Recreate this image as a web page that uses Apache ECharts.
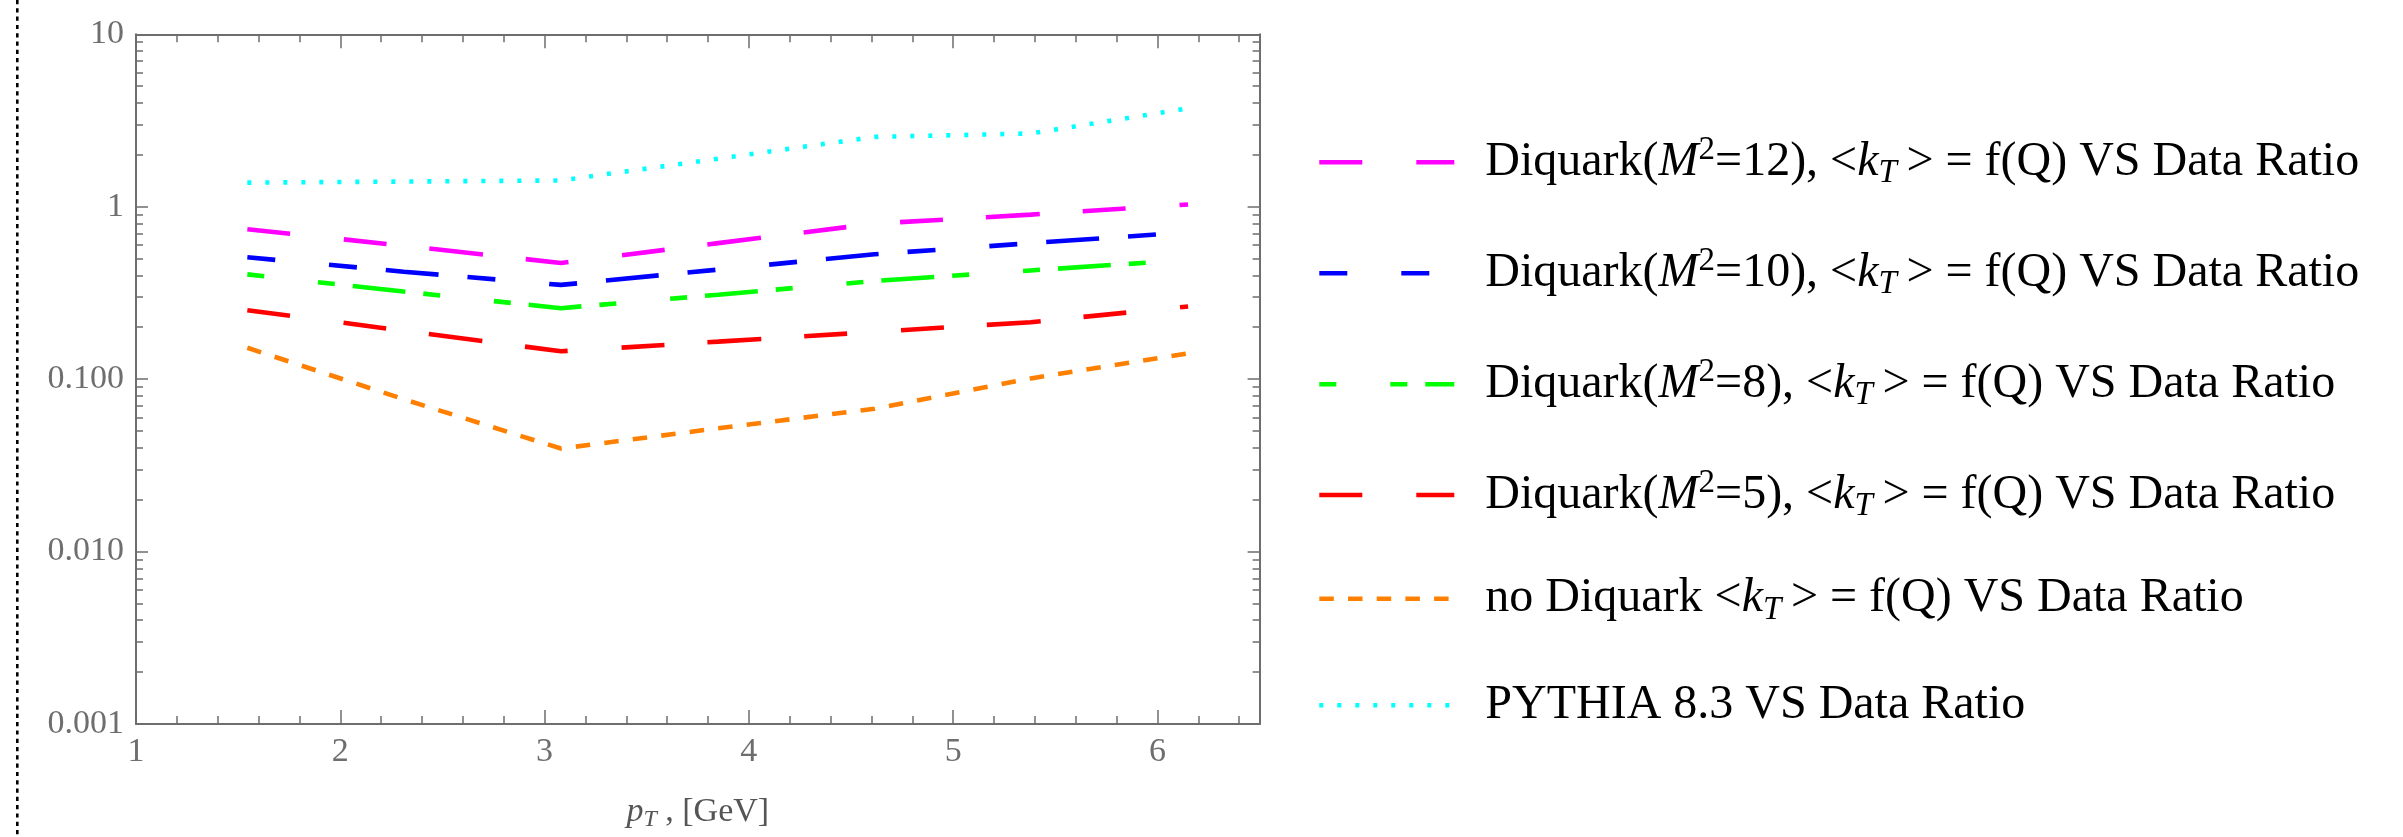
<!DOCTYPE html>
<html>
<head>
<meta charset="utf-8">
<script src="https://cdn.jsdelivr.net/npm/echarts@6/dist/echarts.min.js"></script>
<style>
  html, body { margin: 0; padding: 0; background: #fff; }
  #chart { width: 2403px; height: 837px; }
</style>
</head>
<body>
<div id="chart"></div>
<script>
// pT bin centres
const xValues = [1.545, 2.31, 3.08, 3.85, 4.615, 5.38, 6.15];

// ratios
const diquark12 = [0.741, 0.594, 0.472, 0.615, 0.798, 0.90, 1.03];
const diquark10 = [0.509, 0.42, 0.352, 0.432, 0.530, 0.615, 0.71];
const diquark8 = [0.405, 0.322, 0.258, 0.309, 0.371, 0.427, 0.492];
const diquark5 = [0.251, 0.191, 0.145, 0.165, 0.188, 0.214, 0.264];
const noDiquark = [0.152, 0.0765, 0.0396, 0.0519, 0.0673, 0.101, 0.141];
const pythia = [1.38, 1.40, 1.42, 1.90, 2.54, 2.66, 3.72];

// ticks
const xMinorTicks = [1.2, 1.4, 1.6, 1.8, 2.2, 2.4, 2.6, 2.8, 3.2, 3.4, 3.6, 3.8,
    4.2, 4.4, 4.6, 4.8, 5.2, 5.4, 5.6, 5.8, 6.2, 6.4];
const yMinorTicks = [0.002, 0.003, 0.004, 0.005, 0.006, 0.007, 0.008, 0.009,
    0.02, 0.03, 0.04, 0.05, 0.06, 0.07, 0.08, 0.09,
    0.2, 0.3, 0.4, 0.5, 0.6, 0.7, 0.8, 0.9,
    2, 3, 4, 5, 6, 7, 8, 9];
const yTickLabels = ['0.001', '0.010', '0.100', '1', '10'];

const seriesNames = [
    'Diquark(M2=12), <kT> = f(Q) VS Data Ratio',
    'Diquark(M2=10), <kT> = f(Q) VS Data Ratio',
    'Diquark(M2=8), <kT> = f(Q) VS Data Ratio',
    'Diquark(M2=5), <kT> = f(Q) VS Data Ratio',
    'no Diquark <kT> = f(Q) VS Data Ratio',
    'PYTHIA 8.3 VS Data Ratio'
];
const legendRich = [
    '{r|Diquark(}{it|M}{sup|2}{r|=12), <}{it|k}{sub|T}{r|\u2009> = f(Q) VS Data Ratio}',
    '{r|Diquark(}{it|M}{sup|2}{r|=10), <}{it|k}{sub|T}{r|\u2009> = f(Q) VS Data Ratio}',
    '{r|Diquark(}{it|M}{sup|2}{r|=8), <}{it|k}{sub|T}{r|\u2009> = f(Q) VS Data Ratio}',
    '{r|Diquark(}{it|M}{sup|2}{r|=5), <}{it|k}{sub|T}{r|\u2009> = f(Q) VS Data Ratio}',
    '{r|no Diquark <}{it|k}{sub|T}{r|\u2009> = f(Q) VS Data Ratio}',
    '{r|PYTHIA 8.3 VS Data Ratio}'
];
const colors = ['#ff00ff', '#0000ff', '#00ff00', '#ff0000', '#ff8000', '#00ffff'];
const dashes = [
    [43, 54, 43, 43, 54, 43],
    [28, 54, 28, 29, 53, 29],
    [17, 54, 17, 18, 53, 18],
    [43, 54, 43, 43, 54, 43],
    [14.5, 14.2],
    [4, 14]
];
const seriesData = [diquark12, diquark10, diquark8, diquark5, noDiquark, pythia];

// legend row centres (px), the rows are not evenly spaced in the original
const legendRowY = [157.3, 268.3, 379.3, 490, 597.7, 704.3];

const chart = echarts.init(document.getElementById('chart'));

const serif = 'Liberation Serif';
const axisColor = '#6e6e6e';
const lineW = 4.6;

function pairs(ys) {
    return xValues.map((x, i) => [x, ys[i]]);
}

// main axis + a second one on the same side only for the short ticks
function xAxisPair(pos) {
    const main = {
        type: 'value', position: pos, min: 1, max: 6.5, interval: 1,
        axisLine: { show: true, lineStyle: { color: axisColor, width: 2 } },
        axisTick: { show: true, inside: true, length: 14, lineStyle: { color: axisColor, width: 1.5 } },
        axisLabel: { show: pos === 'bottom', showMaxLabel: false, margin: 11,
            fontFamily: serif, fontSize: 34, color: axisColor },
        splitLine: { show: false }
    };
    const minor = {
        type: 'value', position: pos, min: 1, max: 6.5,
        axisLine: { show: false },
        axisTick: { show: true, inside: true, length: 8, customValues: xMinorTicks,
            lineStyle: { color: axisColor, width: 1.5 } },
        axisLabel: { show: false },
        splitLine: { show: false }
    };
    if (pos === 'bottom') {
        main.name = '{it|p}{sub|T}{r| , [GeV]}';
        main.nameLocation = 'middle';
        main.nameGap = 68;
        main.nameTextStyle = {
            rich: {
                r: { fontFamily: serif, fontSize: 34, color: '#555', lineHeight: 40 },
                it: { fontFamily: serif, fontStyle: 'italic', fontSize: 34, color: '#555', lineHeight: 40 },
                sub: { fontFamily: serif, fontStyle: 'italic', fontSize: 24, color: '#555', lineHeight: 26, verticalAlign: 'bottom' }
            }
        };
    }
    return [main, minor];
}

function yAxisPair(pos) {
    const main = {
        type: 'log', logBase: 10, position: pos, min: 0.001, max: 10, interval: 1,
        axisLine: { show: true, lineStyle: { color: axisColor, width: 2 } },
        axisTick: { show: true, inside: true, length: 12, lineStyle: { color: axisColor, width: 1.5 } },
        axisLabel: { show: pos === 'left', margin: 12, fontFamily: serif, fontSize: 34, color: axisColor,
            formatter: (v, i) => yTickLabels[i] },
        splitLine: { show: false }
    };
    const minor = {
        type: 'log', logBase: 10, position: pos, min: 0.001, max: 10,
        axisLine: { show: false },
        axisTick: { show: true, inside: true, length: 7, customValues: yMinorTicks,
            lineStyle: { color: axisColor, width: 1.5 } },
        axisLabel: { show: false },
        splitLine: { show: false }
    };
    return [main, minor];
}

// one legend per row so each row sits where it does in the original
const legends = seriesNames.map((name, i) => ({
    orient: 'vertical',
    left: 1312,
    top: legendRowY[i] - 28,
    itemWidth: 135,
    itemHeight: 20,
    itemStyle: { opacity: 0 },
    lineStyle: { width: lineW },
    data: [name],
    formatter: (n) => legendRich[seriesNames.indexOf(n)],
    textStyle: {
        padding: [0, 0, 0, 26],
        rich: {
            r: { fontFamily: serif, fontSize: 48, color: '#000', lineHeight: 56 },
            it: { fontFamily: serif, fontStyle: 'italic', fontSize: 48, color: '#000', lineHeight: 56 },
            sup: { fontFamily: serif, fontSize: 33, color: '#000', lineHeight: 26, verticalAlign: 'top' },
            sub: { fontFamily: serif, fontStyle: 'italic', fontSize: 33, color: '#000', lineHeight: 34, verticalAlign: 'bottom' }
        }
    }
}));

const option = {
    animation: false,
    backgroundColor: '#fff',
    grid: { left: 136, top: 34.3, width: 1123.6, height: 695, containLabel: false },
    xAxis: [...xAxisPair('bottom'), ...xAxisPair('top')],
    yAxis: [...yAxisPair('left'), ...yAxisPair('right')],
    legend: legends,
    series: seriesData.map((d, i) => ({
        name: seriesNames[i],
        type: 'line',
        xAxisIndex: 0,
        yAxisIndex: 0,
        symbol: 'none',
        data: pairs(d),
        itemStyle: { color: colors[i] },
        lineStyle: { color: colors[i], width: lineW, type: dashes[i], cap: 'butt' }
    })),
    // dotted separator on the far left
    graphic: [{
        type: 'line',
        shape: { x1: 17.3, y1: 0, x2: 17.3, y2: 837 },
        style: { stroke: '#000', lineWidth: 2.6, lineDash: [4.2, 4.1] }
    }]
};

chart.setOption(option);
</script>
</body>
</html>
